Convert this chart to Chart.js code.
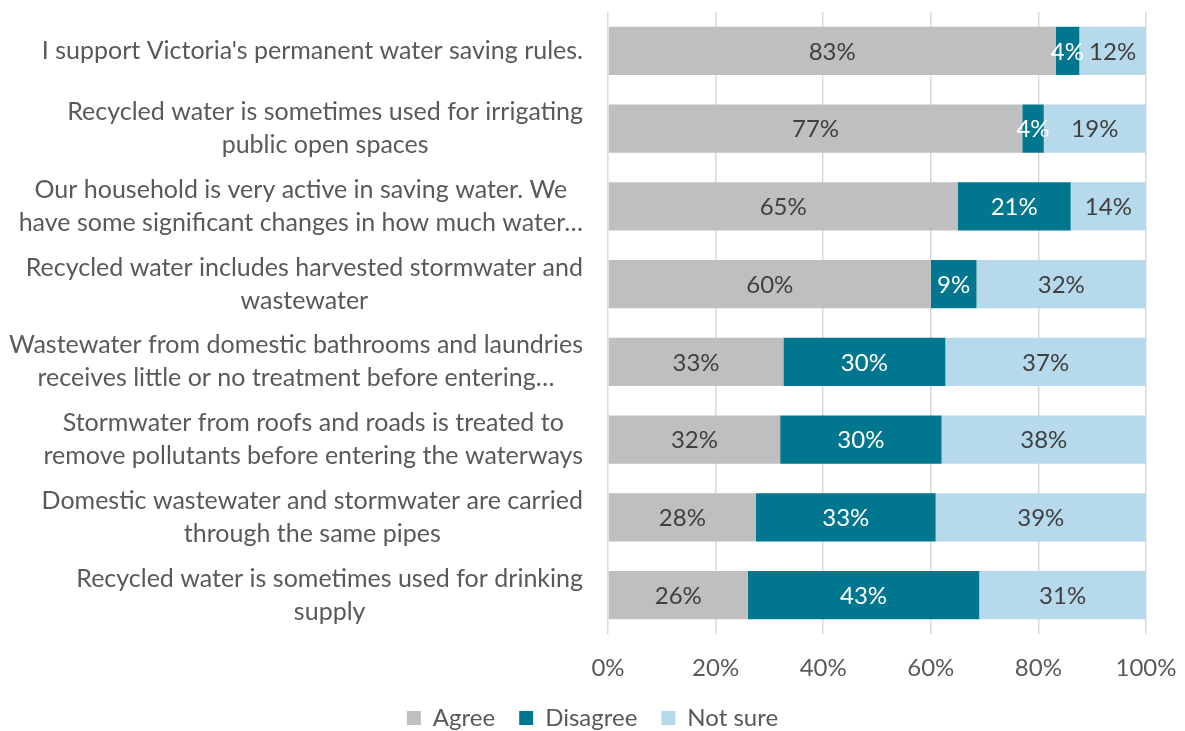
<!DOCTYPE html>
<html>
<head>
<meta charset="utf-8">
<script src="https://cdn.jsdelivr.net/npm/chart.js@4.4.1/dist/chart.umd.min.js"></script>
<style>
  html, body { margin: 0; padding: 0; background: #ffffff; }
  #wrap { width: 1185px; height: 731px; }
</style>
</head>
<body>
<div id="wrap"><canvas id="c" width="1185" height="731"></canvas></div>
<script>
// Survey statements (each entry is the list of wrapped lines)
const statements = [
  ["I support Victoria's permanent water saving rules."],
  ["Recycled water is sometimes used for irrigating", "public open spaces"],
  ["Our household is very active in saving water. We", "have some significant changes in how much water…"],
  ["Recycled water includes harvested stormwater and", "wastewater"],
  ["Wastewater from domestic bathrooms and laundries", "receives little or no treatment before entering…"],
  ["Stormwater from roofs and roads is treated to", "remove pollutants before entering the waterways"],
  ["Domestic wastewater and stormwater are carried", "through the same pipes"],
  ["Recycled water is sometimes used for drinking", "supply"]
];

// Share of respondents (%) per response
const agree    = [83.2, 77, 65, 60, 32.6, 32, 27.5, 26];
const disagree = [4.4, 4, 21, 8.5, 30.1, 30, 33.4, 43];
const notSure  = [12.4, 19, 14, 31.5, 37.3, 38, 39.1, 31];

const seriesNames = ["Agree", "Disagree", "Not sure"];
const xTicks = [0, 20, 40, 60, 80, 100];

const FONT = "Lato";
const TEXT = "#595959";

// Draws the wrapped statement labels: each block right-aligned to the axis, lines centred within it
const statementLabels = {
  id: 'statementLabels',
  afterDraw(chart) {
    const ctx = chart.ctx;
    const y = chart.scales.y;
    const right = chart.chartArea.left - 25;
    const lh = 33;
    ctx.save();
    ctx.font = `25px ${FONT}`;
    ctx.fillStyle = TEXT;
    ctx.textAlign = 'center';
    ctx.textBaseline = 'middle';
    statements.forEach((lines, i) => {
      const cy = y.getPixelForValue(i);
      const w = Math.max(...lines.map(l => ctx.measureText(l).width));
      const cx = right - w / 2;
      const top = cy - (lines.length - 1) * lh / 2;
      lines.forEach((l, k) => ctx.fillText(l, cx, top + k * lh));
    });
    ctx.restore();
  }
};

// Percent labels centred in each bar segment
const segmentLabels = {
  id: 'segmentLabels',
  afterDatasetsDraw(chart) {
    const ctx = chart.ctx;
    ctx.save();
    ctx.font = `24px ${FONT}`;
    ctx.textAlign = 'center';
    ctx.textBaseline = 'middle';
    chart.data.datasets.forEach((ds, di) => {
      const meta = chart.getDatasetMeta(di);
      meta.data.forEach((bar, i) => {
        const v = ds.data[i];
        const cx = (bar.x + bar.base) / 2;
        ctx.fillStyle = ds.labelColor;
        ctx.fillText(Math.round(v) + '%', cx, bar.y + 1);
      });
    });
    ctx.restore();
  }
};

new Chart(document.getElementById('c'), {
  type: 'bar',
  data: {
    labels: statements.map(s => s.join(' ')),
    datasets: [
      { label: seriesNames[0], data: agree,    backgroundColor: '#BFBFBF', labelColor: '#404040' },
      { label: seriesNames[1], data: disagree, backgroundColor: '#00778F', labelColor: '#FFFFFF' },
      { label: seriesNames[2], data: notSure,  backgroundColor: '#B7D9EC', labelColor: '#404040' }
    ]
  },
  options: {
    indexAxis: 'y',
    responsive: false,
    animation: false,
    devicePixelRatio: 1,
    layout: { padding: { left: 0, right: 0, top: 12, bottom: -9 } },
    datasets: { bar: { barPercentage: 0.62, categoryPercentage: 1, borderWidth: 0 } },
    scales: {
      x: {
        stacked: true,
        min: 0,
        max: 100,
        afterBuildTicks(scale) { scale.ticks = xTicks.map(v => ({ value: v })); },
        afterFit(scale) {
          scale.height = 48;
          scale.paddingLeft = 0;
          scale.paddingRight = 39;
        },
        grid: { color: '#D9D9D9', lineWidth: 1.5, drawTicks: false },
        border: { display: false },
        ticks: {
          color: TEXT,
          font: { family: FONT, size: 24 },
          padding: 20,
          callback: v => v + '%'
        }
      },
      y: {
        stacked: true,
        grid: { display: false },
        border: { display: false },
        ticks: { display: false },
        afterFit(scale) { scale.width = 608; }
      }
    },
    plugins: {
      legend: {
        position: 'bottom',
        labels: {
          color: TEXT,
          font: { family: FONT, size: 24 },
          boxWidth: 14,
          boxHeight: 14,
          padding: 24
        }
      },
      tooltip: { enabled: false }
    }
  },
  plugins: [statementLabels, segmentLabels]
});
</script>
</body>
</html>
